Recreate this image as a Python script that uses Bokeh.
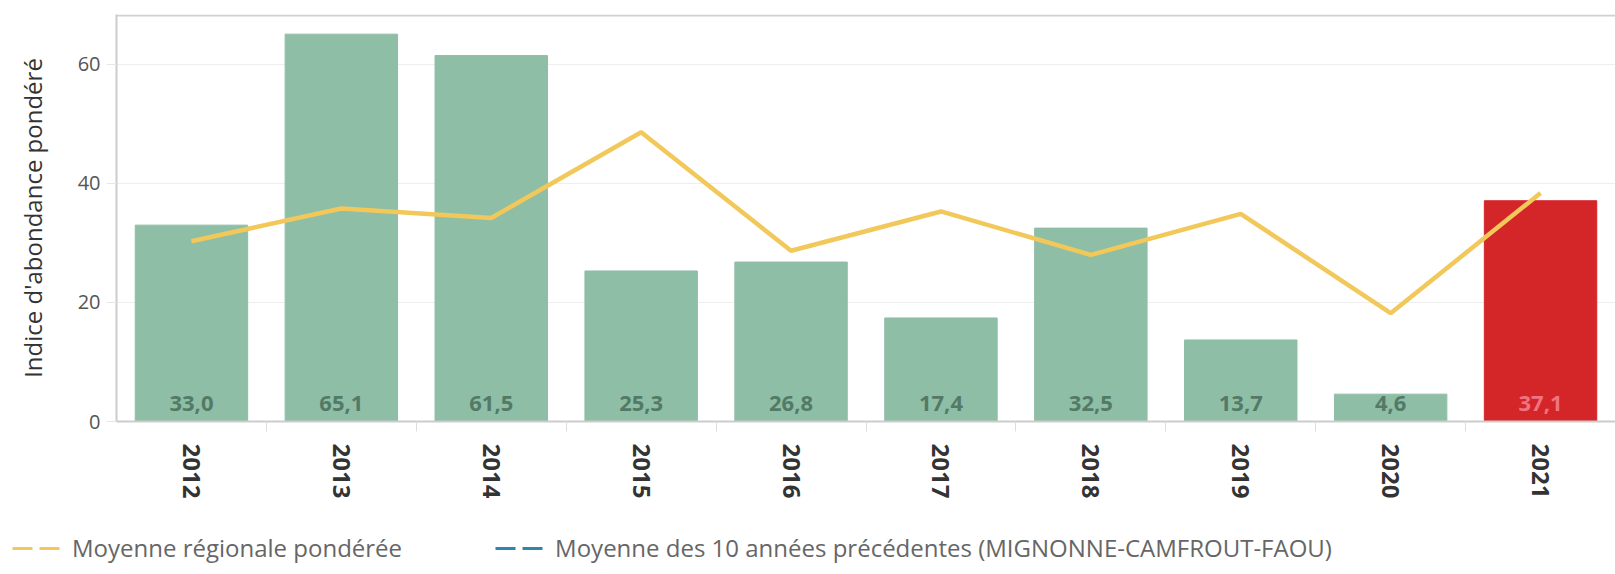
from bokeh.plotting import figure
from bokeh.layouts import column
from bokeh.models import (ColumnDataSource, Range1d, FixedTicker,
                          Legend, LegendItem, BoxAnnotation)
from bokeh.core.properties import value
from bokeh.embed import file_html
from bokeh.resources import INLINE

# ---- data ----
years = ["2012", "2013", "2014", "2015", "2016", "2017", "2018", "2019", "2020", "2021"]
indice = [33.0, 65.1, 61.5, 25.3, 26.8, 17.4, 32.5, 13.7, 4.6, 37.1]
moyenne_regionale = [30.3, 35.8, 34.2, 48.6, 28.7, 35.3, 28.0, 34.9, 18.2, 38.4]
moyenne_10_ans = [float("nan")] * len(years)   # series not drawn in the chart
y_ticks = [0, 20, 40, 60]
legend_labels = ["Moyenne régionale pondérée",
                 "Moyenne des 10 années précédentes (MIGNONNE-CAMFROUT-FAOU)"]
y_title = "Indice d'abondance pondéré"

GREEN = "#8ebea6"
RED = "#d42629"
YELLOW = "#f1c859"
BLUE = "#2e86ab"
FONT = "Open Sans"

n = len(years)
slot_centers = [i + 0.5 for i in range(n)]          # one slot per year
slot_bounds = list(range(1, n))
bar_colors = [GREEN] * (n - 1) + [RED]
label_colors = ["#537a66"] * (n - 1) + ["#f07480"]
labels = [f"{v:.1f}".replace(".", ",") for v in indice]

src = ColumnDataSource(dict(x=slot_centers, year=years, val=indice, color=bar_colors,
                            lab=labels, labcol=label_colors,
                            zero=[0] * n, reg=moyenne_regionale, m10=moyenne_10_ans))

W = 1615
H_MAIN, H_LEG = 520, 54
LEFT, TOP, BOTTOM = 116, 14, 99

p = figure(x_range=Range1d(0, n), y_range=Range1d(0, 68.4),
           width=W, height=H_MAIN, output_backend="svg", toolbar_location=None,
           min_border_left=LEFT, min_border_top=TOP, min_border_bottom=BOTTOM,
           min_border_right=0)
p.outline_line_color = None
p.background_fill_color = "white"

p.vbar(x="x", top="val", bottom=0, width=0.75, color="color", source=src)
p.line(x="x", y="reg", line_color=YELLOW, line_width=4.5, source=src)
p.text(x="x", y="zero", text="lab", text_color="labcol", source=src,
       text_align="center", text_baseline="middle", y_offset=-18,
       text_font=value(FONT), text_font_style="bold", text_font_size="22px")

# x axis: year labels at slot centres, small ticks at slot boundaries
xa = p.xaxis[0]
xa.ticker = FixedTicker(ticks=slot_centers, minor_ticks=slot_bounds)
xa.major_label_overrides = {c: y for c, y in zip(slot_centers, years)}
xa.axis_line_color = "#cccccc"
xa.axis_line_width = 2
xa.major_tick_line_color = None
xa.major_tick_out = 0
xa.major_tick_in = 0
xa.minor_tick_line_color = "#dddddd"
xa.minor_tick_out = 10
xa.minor_tick_in = 0
xa.major_label_orientation = "vertical"
xa.major_label_standoff = 12
xa.major_label_text_font = FONT
xa.major_label_text_font_style = "bold"
xa.major_label_text_font_size = "24px"
xa.major_label_text_color = "#333333"

ya = p.yaxis[0]
ya.ticker = FixedTicker(ticks=y_ticks)
ya.axis_line_color = "#cccccc"
ya.axis_line_width = 2
ya.major_tick_line_color = "#e6e6e6"
ya.major_tick_out = 10
ya.major_tick_in = 0
ya.minor_tick_line_color = None
ya.major_label_standoff = 6
ya.major_label_text_font = FONT
ya.major_label_text_font_size = "20px"
ya.major_label_text_color = "#555555"
ya.axis_label = y_title
ya.axis_label_standoff = 26
ya.axis_label_text_font = FONT
ya.axis_label_text_font_style = "normal"
ya.axis_label_text_font_size = "24px"
ya.axis_label_text_color = "#333333"

p.xgrid.grid_line_color = None
p.ygrid.grid_line_color = "#eeeeee"
p.ygrid.grid_line_width = 1

# top rule
p.add_layout(BoxAnnotation(bottom=TOP + 2, bottom_units="canvas",
                           fill_color="#d0d0d0", fill_alpha=1, line_color=None))

# ---- legend strip ----
lg = figure(width=W, height=H_LEG, output_backend="svg", toolbar_location=None,
            x_axis_location=None, y_axis_location=None, min_border=0,
            x_range=Range1d(0, 1), y_range=Range1d(0, 1))
lg.outline_line_color = None
lg.grid.visible = False
# series lie outside this strip's ranges: only their legend symbols show
r1 = lg.line(x="x", y="reg", line_color=YELLOW, line_width=3, line_dash="20 7", source=src)
r2 = lg.line(x="x", y="m10", line_color=BLUE, line_width=3, line_dash="20 7", source=src)
legend = Legend(items=[LegendItem(label=legend_labels[0], renderers=[r1]),
                       LegendItem(label=legend_labels[1], renderers=[r2])],
                orientation="horizontal", location=(12, 10),
                glyph_width=50, glyph_height=20, label_standoff=10, spacing=93,
                padding=0, margin=0, border_line_color=None,
                background_fill_alpha=0,
                label_text_font=FONT, label_text_font_size="24px",
                label_text_color="#666666", label_height=30)
lg.add_layout(legend, "center")

layout = column(p, column(lg, spacing=0), spacing=0)
open("out.html", "w").write(file_html(layout, INLINE))
